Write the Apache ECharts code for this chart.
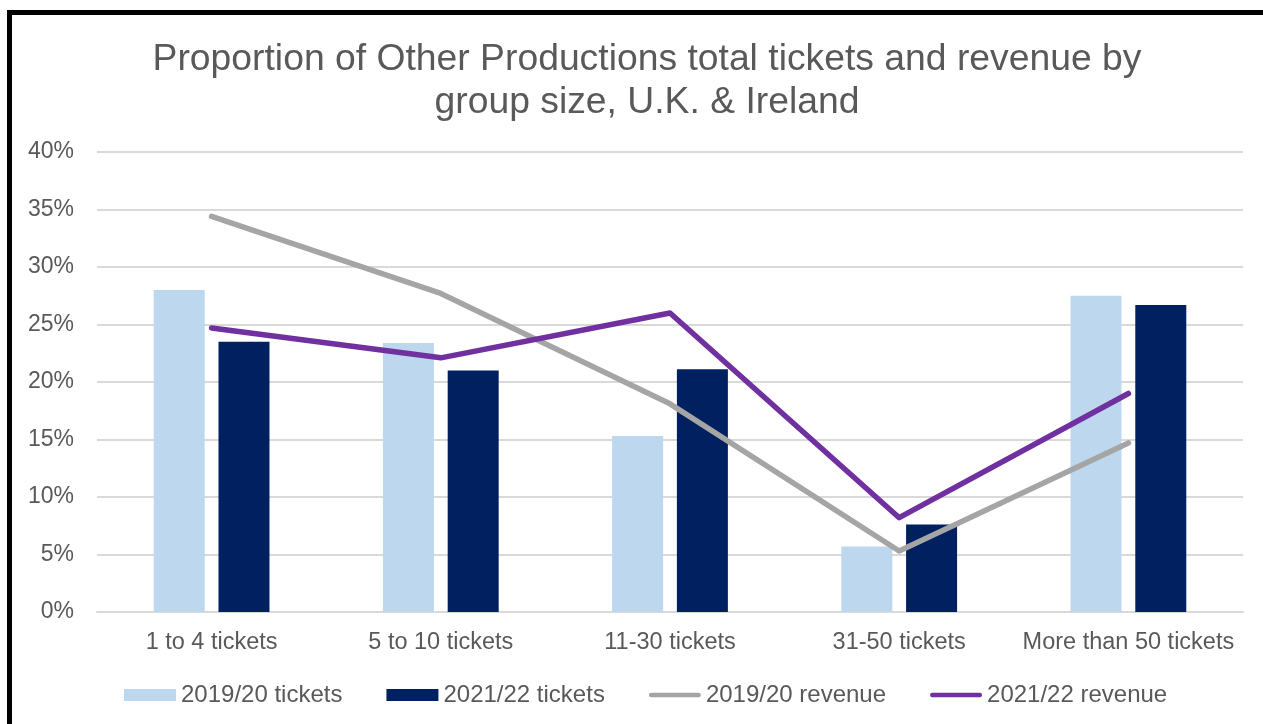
<!DOCTYPE html>
<html>
<head>
<meta charset="utf-8">
<script src="https://cdn.jsdelivr.net/npm/echarts@6/dist/echarts.min.js"></script>
<style>
  html, body { margin: 0; padding: 0; background: #fff; overflow: hidden; }
  #frame {
    position: absolute; left: 7px; top: 10px;
    width: 1400px; height: 900px;
    border: 5px solid #000; box-sizing: border-box;
  }
  #chart { position: absolute; left: 0; top: 0; width: 1263px; height: 724px; }
</style>
</head>
<body>
<div id="frame"></div>
<div id="chart"></div>
<script>
// group size categories
const categories = ["1 to 4 tickets", "5 to 10 tickets", "11-30 tickets", "31-50 tickets", "More than 50 tickets"];
// share of tickets (%)
const tickets1920 = [28.0, 23.4, 15.3, 5.7, 27.5];
const tickets2122 = [23.5, 21.0, 21.1, 7.6, 26.7];
// share of revenue (%)
const revenue1920 = [34.4, 27.7, 18.1, 5.3, 14.7];
const revenue2122 = [24.7, 22.1, 26.0, 8.2, 19.0];

const textColor = "#595959";
const font = "Liberation Sans, Arial, sans-serif";
// thick rounded line used as legend marker for the revenue lines
const lineIcon = "path://M2.5,0 L52.5,0 A2.5,2.5 0 0 1 52.5,5 L2.5,5 A2.5,2.5 0 0 1 2.5,0 Z";

let chart = echarts.init(document.getElementById("chart"));

chart.setOption({
  backgroundColor: "transparent",
  animation: false,
  textStyle: { fontFamily: font, color: textColor },
  title: {
    text: "Proportion of Other Productions total tickets and revenue by\ngroup size, U.K. & Ireland",
    left: 642,
    textAlign: "center",
    top: 33,
    textStyle: {
      fontFamily: font,
      fontSize: 37.3,
      fontWeight: "normal",
      color: textColor,
      lineHeight: 43
    }
  },
  grid: { left: 97, right: 20, top: 152, bottom: 112, containLabel: false },
  legend: {
    left: 119,
    top: 678,
    itemWidth: 52,
    itemHeight: 12,
    itemGap: 44,
    textStyle: { fontFamily: font, fontSize: 24, color: textColor },
    data: [
      { name: "2019/20 tickets", icon: "rect" },
      { name: "2021/22 tickets", icon: "rect" },
      { name: "2019/20 revenue", icon: lineIcon },
      { name: "2021/22 revenue", icon: lineIcon }
    ]
  },
  xAxis: {
    type: "category",
    data: categories,
    axisLine: { lineStyle: { color: "#D9D9D9", width: 2 } },
    axisTick: { show: false },
    axisLabel: { fontFamily: font, fontSize: 23.5, color: textColor, margin: 19, interval: 0 }
  },
  yAxis: {
    type: "value",
    min: 0,
    max: 40,
    interval: 5,
    axisLine: { show: false },
    axisTick: { show: false },
    axisLabel: { fontFamily: font, fontSize: 23, color: textColor, margin: 23, formatter: "{value}%" },
    splitLine: { lineStyle: { color: "#D9D9D9", width: 2 } }
  },
  series: [
    {
      name: "2019/20 tickets",
      type: "bar",
      data: tickets1920,
      barWidth: 51,
      barGap: "27%",
      itemStyle: { color: "#BDD7EE" }
    },
    {
      name: "2021/22 tickets",
      type: "bar",
      data: tickets2122,
      barWidth: 51,
      barGap: "27%",
      itemStyle: { color: "#002060" }
    },
    {
      name: "2019/20 revenue",
      type: "line",
      data: revenue1920,
      symbol: "none",
      itemStyle: { color: "#A5A5A5" },
      lineStyle: { color: "#A5A5A5", width: 5.5, cap: "round", join: "round" }
    },
    {
      name: "2021/22 revenue",
      type: "line",
      data: revenue2122,
      symbol: "none",
      itemStyle: { color: "#7030A0" },
      lineStyle: { color: "#7030A0", width: 5.5, cap: "round", join: "round" }
    }
  ]
});
</script>
</body>
</html>
